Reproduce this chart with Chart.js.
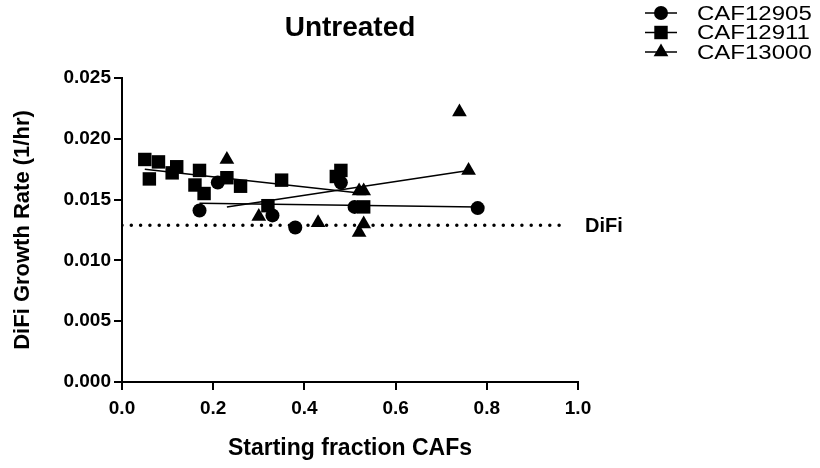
<!DOCTYPE html>
<html>
<head>
<meta charset="utf-8">
<script src="https://cdn.jsdelivr.net/npm/chart.js@4.4.1/dist/chart.umd.min.js"></script>
<style>
  html, body { margin: 0; padding: 0; background: #fff; }
  #wrap { width: 820px; height: 468px; }
</style>
</head>
<body>
<div id="wrap"><canvas id="myChart"></canvas></div>
<script>
const seriesNames = ['CAF12905', 'CAF12911', 'CAF13000'];

// points
const caf12905X = [0.17, 0.21, 0.33, 0.38, 0.48, 0.51, 0.78];
const caf12905Y = [0.0141, 0.0164, 0.0137, 0.0127, 0.0164, 0.0144, 0.0143];

const caf12911X = [0.05, 0.06, 0.08, 0.11, 0.12, 0.16, 0.17, 0.18, 0.23, 0.26, 0.32, 0.35, 0.47, 0.48, 0.53];
const caf12911Y = [0.0183, 0.0167, 0.0181, 0.0172, 0.0177, 0.0162, 0.0174, 0.0155, 0.0168, 0.0161, 0.0145, 0.0166, 0.0169, 0.0174, 0.0144];

const caf13000X = [0.23, 0.30, 0.43, 0.52, 0.53, 0.52, 0.53, 0.74, 0.76];
const caf13000Y = [0.0183, 0.0136, 0.0131, 0.0157, 0.0157, 0.0123, 0.0130, 0.0222, 0.0174];

// fitted lines (end points)
const fit12905X = [0.17, 0.78];
const fit12905Y = [0.0147, 0.0144];
const fit12911X = [0.05, 0.53];
const fit12911Y = [0.0175, 0.0155];
const fit13000X = [0.23, 0.76];
const fit13000Y = [0.0144, 0.0174];

const difiLevel = 0.0129;
const difiX = [0, 0.97];

const xTicks = [0, 0.2, 0.4, 0.6, 0.8, 1.0];
const yTicks = [0, 0.005, 0.010, 0.015, 0.020, 0.025];

const fontFamily = "'Liberation Sans', Arial, sans-serif";
const pointStyles = ['circle', 'rect', 'triangle'];
const pointSizes = [7, 9.5, 8.5];

const toPoints = (xs, ys) => xs.map((x, i) => ({ x, y: ys[i] }));

const scatterSets = [
  [caf12905X, caf12905Y],
  [caf12911X, caf12911Y],
  [caf13000X, caf13000Y],
].map(([xs, ys], i) => ({
  type: 'scatter',
  label: seriesNames[i],
  data: toPoints(xs, ys),
  pointStyle: pointStyles[i],
  pointRadius: pointSizes[i],
  backgroundColor: '#000',
  borderColor: '#000',
  borderWidth: 0,
}));

const fitSets = [
  [fit12905X, fit12905Y],
  [fit12911X, fit12911Y],
  [fit13000X, fit13000Y],
].map(([xs, ys]) => ({
  type: 'line',
  data: toPoints(xs, ys),
  borderColor: '#000',
  borderWidth: 1.5,
  pointRadius: 0,
  fill: false,
}));

const difiSet = {
  type: 'line',
  data: toPoints(difiX, difiX.map(() => difiLevel)),
  borderColor: '#000',
  borderWidth: 3.5,
  borderDash: [0, 9.3],
  borderCapStyle: 'round',
  pointRadius: 0,
  fill: false,
};

const extras = {
  id: 'extras',
  afterDraw(chart) {
    const { ctx, chartArea, scales } = chart;
    ctx.save();
    ctx.fillStyle = '#000';
    ctx.strokeStyle = '#000';
    ctx.textBaseline = 'middle';

    ctx.font = `bold 28px ${fontFamily}`;
    ctx.textAlign = 'center';
    ctx.fillText('Untreated', (chartArea.left + chartArea.right) / 2, 28);

    ctx.font = `bold 20px ${fontFamily}`;
    ctx.textAlign = 'left';
    ctx.fillText('DiFi', 585, scales.y.getPixelForValue(difiLevel) + 1);

    seriesNames.forEach((name, i) => {
      const y = 13 + i * 19.5;
      ctx.lineWidth = 1.5;
      ctx.beginPath();
      ctx.moveTo(645, y);
      ctx.lineTo(677, y);
      ctx.stroke();
      Chart.helpers.drawPoint(ctx, {
        pointStyle: pointStyles[i],
        radius: pointSizes[i],
        rotation: 0,
        borderWidth: 0,
      }, 661, y);
      // legend text in the picture is a bit wider than plain Arial
      ctx.save();
      ctx.font = `20px ${fontFamily}`;
      ctx.translate(697, y + 1);
      ctx.scale(1.2, 1);
      ctx.fillText(name, 0, 0);
      ctx.restore();
    });
    ctx.restore();
  },
};

const axisGrid = {
  drawOnChartArea: false,
  color: '#000',
  lineWidth: 2,
  tickLength: 8,
};

new Chart(document.getElementById('myChart'), {
  data: { datasets: [...fitSets, difiSet, ...scatterSets] },
  options: {
    responsive: true,
    maintainAspectRatio: false,
    animation: false,
    layout: { padding: { left: 0, right: 242, top: 78, bottom: 0 } },
    plugins: {
      legend: { display: false },
      title: { display: false },
      tooltip: { enabled: false },
    },
    scales: {
      x: {
        type: 'linear',
        min: 0,
        max: 1,
        afterFit: s => { s.height = 86; },
        afterBuildTicks: s => { s.ticks = xTicks.map(value => ({ value })); },
        border: { color: '#000', width: 2 },
        grid: axisGrid,
        ticks: {
          color: '#000',
          padding: 7,
          font: { family: fontFamily, size: 19, weight: 'bold' },
          callback: v => v.toFixed(1),
        },
        title: {
          display: true,
          text: 'Starting fraction CAFs',
          color: '#000',
          font: { family: fontFamily, size: 23, weight: 'bold' },
          padding: { top: 0, bottom: 6 },
        },
      },
      y: {
        type: 'linear',
        min: 0,
        max: 0.025,
        afterFit: s => { s.width = 122; },
        afterBuildTicks: s => { s.ticks = yTicks.map(value => ({ value })); },
        border: { color: '#000', width: 2 },
        grid: axisGrid,
        ticks: {
          color: '#000',
          padding: 3,
          font: { family: fontFamily, size: 19, weight: 'bold' },
          callback: v => v.toFixed(3),
        },
        title: {
          display: true,
          text: 'DiFi Growth Rate (1/hr)',
          color: '#000',
          font: { family: fontFamily, size: 22, weight: 'bold' },
          padding: { top: 10, bottom: 0 },
        },
      },
    },
  },
  plugins: [extras],
});
</script>
</body>
</html>
